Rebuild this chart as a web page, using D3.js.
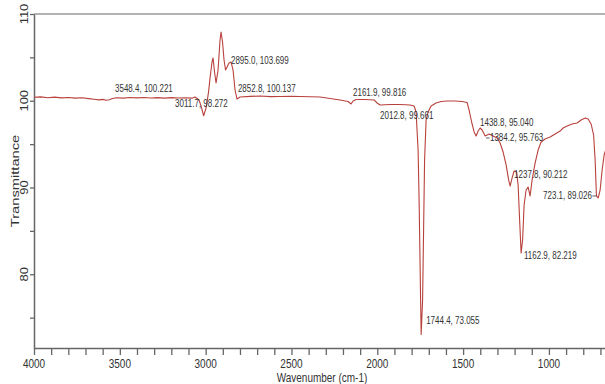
<!DOCTYPE html>
<html>
<head>
<meta charset="utf-8">
<script src="https://cdn.jsdelivr.net/npm/d3@7/dist/d3.min.js"></script>
<style>
  html, body { margin: 0; padding: 0; background: #fff; }
  svg { display: block; font-family: "Liberation Sans", Arial, sans-serif; }
</style>
</head>
<body>
<div id="chart"></div>
<script>
// FTIR spectrum
const wavenumber = [
  4000, 3960, 3920, 3880, 3840, 3800, 3760, 3720, 3680, 3650, 3620, 3600, 3580, 3560, 3548.4,
  3520, 3480, 3440, 3400, 3360, 3320, 3280, 3240, 3200, 3160, 3120, 3080, 3061.8, 3038.5, 3026.8,
  3011.7, 2997.7, 2983.1, 2974.4, 2962.7, 2956.9, 2948.1, 2939.4, 2927.7, 2916.1, 2910.2, 2901.5,
  2892.8, 2884.0, 2875.3, 2863.6, 2852.0, 2840.3, 2828.7, 2817.0, 2799.5, 2740, 2683, 2620, 2566,
  2500, 2450, 2390, 2333, 2275, 2217, 2170, 2152.7, 2141, 2123.5, 2071, 2018.6, 2001, 1983.6, 1925,
  1867, 1809, 1785.5, 1773.9, 1762.2, 1756.4, 1747.6, 1744.4, 1736.0, 1730.2, 1724.4, 1715.6, 1704,
  1686.5, 1657.3, 1628.2, 1593.2, 1546.6, 1505.8, 1476.7, 1465, 1450.4, 1435.8, 1424.2, 1412.5,
  1400.9, 1389.2, 1371.7, 1348.4, 1325.1, 1301.8, 1284.4, 1266.9, 1249.4, 1234.8, 1226.1, 1214.4,
  1202.8, 1188.2, 1179.5, 1170.7, 1162.0, 1153.3, 1144.6, 1133, 1121.3, 1109.6, 1098, 1080.5, 1063,
  1045.5, 1022.2, 993.1, 963.9, 934.8, 917.3, 894, 864.9, 835.7, 812.4, 789.1, 771.6, 754.1, 739.6,
  730.8, 723.1, 713.3, 701.7, 690, 678.3, 660.8, 649.2
]
const transmittance = [
  100.40, 100.45, 100.35, 100.42, 100.33, 100.38, 100.30, 100.35, 100.25, 100.18, 100.10, 100.16, 100.05, 100.12, 100.221,
  100.35, 100.30, 100.38, 100.33, 100.38, 100.32, 100.36, 100.30, 100.36, 100.31, 100.35, 100.30, 100.43, 100.09, 99.4,
  98.272, 99.16, 101.0, 102.62, 104.47, 104.93, 103.31, 102.05, 103.54, 107.0, 107.93, 106.77,
  104.70, 103.54, 103.89, 104.35, 104.47, 103.54, 101.24, 100.2, 100.43, 100.5, 100.55, 100.48, 100.49,
  100.52, 100.49, 100.46, 100.43, 100.26, 100.09, 99.91, 99.63, 99.97, 100.14, 100.14, 100.09, 99.74, 99.51, 99.57,
  99.57, 99.51, 99.40, 98.70, 94.32, 88.56, 77.03, 73.055, 77.03, 85.1, 93.17, 97.78, 98.70,
  99.4, 99.74, 99.91, 99.97, 99.97, 99.91, 99.8, 98.93, 97.55, 96.4, 95.94, 96.51,
  96.86, 96.63, 95.94, 96.17, 95.94, 95.71, 95.13, 94.09, 92.6, 90.87, 90.17, 91.1,
  91.9, 91.79, 90.29, 86.25, 82.45, 83.95, 87.98, 89.71, 90.06, 89.02, 90.87, 92.82, 94.32,
  95.25, 95.59, 95.82, 96.17, 96.51, 96.86, 97.09, 97.32, 97.44, 97.78, 98.01, 97.9, 97.32, 96.05,
  93.17, 89.026, 88.79, 89.71, 92.02, 93.75, 94.9, 95.48
]

// peak picks
const peakWavenumber = [3548.4, 3011.7, 2895.0, 2852.8, 2161.9, 2012.8, 1744.4, 1438.8, 1384.2, 1237.8, 1162.9, 723.1]
const peakTransmittance = [100.221, 98.272, 103.699, 100.137, 99.816, 99.661, 73.055, 95.040, 95.763, 90.212, 82.219, 89.026]
const peakLabels = ["3548.4, 100.221", "3011.7, 98.272", "2895.0, 103.699", "2852.8, 100.137", "2161.9, 99.816",
  "2012.8, 99.661", "1744.4, 73.055", "1438.8, 95.040", "1384.2, 95.763", "1237.8, 90.212", "1162.9, 82.219", "723.1, 89.026"]

const xTickValues = [4000, 3500, 3000, 2500, 2000, 1500, 1000]
const yTickValues = [80, 90, 100, 110]

// layout
const width = 605
const height = 384
const marginLeft = 34
const marginTop = 14
const plotBottom = 348
const textStretch = 1.3      // the picture is squashed a bit, text looks tall
const lineColor = "#b8413c"
const axisColor = "#666"
const textColor = "#333"

// where each peak label sits relative to its point [dx, dy, anchor]
const labelOffset = [
  [3.5, -7, "start"], [-28.6, -8.7, "start"], [7.3, -4.7, "start"], [7, -7.6, "start"],
  [3.5, -6.3, "start"], [5, 15, "start"], [5, -10.5, "start"], [6.4, -17.8, "start"],
  [7, 3.5, "start"], [6, -7.7, "start"], [3, 4, "start"], [-4.5, 3, "end"]
]

const data = wavenumber.map((w, i) => ({ w: w, t: transmittance[i] }))

const x = d3.scaleLinear([4000, 650], [marginLeft, 609])
const y = d3.scaleLinear([71.5, 110], [plotBottom, marginTop])

const svg = d3.select("#chart")
  .append("svg")
  .attr("width", width)
  .attr("height", height)
  .attr("viewBox", [0, 0, width, height])

// top frame
svg.append("line")
  .attr("x1", marginLeft).attr("x2", width)
  .attr("y1", marginTop).attr("y2", marginTop)
  .attr("stroke", "#9a9a9a")
  .attr("stroke-width", 1.5)

// x axis, tick every 100
svg.append("g")
  .attr("transform", `translate(0,${plotBottom})`)
  .call(d3.axisBottom(x).tickValues(d3.range(4000, 600, -100)).tickSize(7).tickSizeOuter(0).tickFormat(""))
  .call(g => g.select(".domain").attr("stroke", axisColor).attr("stroke-width", 1.5))
  .call(g => g.selectAll(".tick line").attr("stroke", axisColor).attr("stroke-width", 1.3))

// y axis, tick every 5
svg.append("g")
  .attr("transform", `translate(${marginLeft},0)`)
  .call(d3.axisLeft(y).tickValues(d3.range(75, 111, 5)).tickSize(4).tickSizeOuter(0).tickFormat(""))
  .call(g => g.select(".domain").attr("stroke", axisColor).attr("stroke-width", 1.5))
  .call(g => g.selectAll(".tick line").attr("stroke", axisColor).attr("stroke-width", 1.3))

// tick labels
svg.append("g")
  .selectAll("text")
  .data(xTickValues)
  .join("text")
  .attr("transform", d => `translate(${x(d)},368) scale(1,${textStretch})`)
  .attr("text-anchor", "middle")
  .attr("font-size", 10)
  .attr("fill", textColor)
  .text(d => d)

svg.append("g")
  .selectAll("text")
  .data(yTickValues)
  .join("text")
  .attr("transform", d => `translate(28,${y(d)}) scale(1,${textStretch}) rotate(-90)`)
  .attr("text-anchor", "middle")
  .attr("font-size", 10)
  .attr("fill", textColor)
  .text(d => d)

// axis titles
svg.append("text")
  .attr("transform", `translate(322,381.5) scale(1,1.2)`)
  .attr("text-anchor", "middle")
  .attr("font-size", 10)
  .attr("fill", textColor)
  .text("Wavenumber (cm-1)")

svg.append("text")
  .attr("transform", `translate(19,181) scale(1,1.4) rotate(-90)`)
  .attr("text-anchor", "middle")
  .attr("font-size", 10.5)
  .attr("fill", textColor)
  .text("Transmittance")

// spectrum
const line = d3.line()
  .x(d => x(d.w))
  .y(d => y(d.t))

svg.append("path")
  .datum(data)
  .attr("fill", "none")
  .attr("stroke", lineColor)
  .attr("stroke-width", 1.1)
  .attr("stroke-linejoin", "round")
  .attr("d", line)

// peak labels
const peaks = peakLabels.map((label, i) => ({
  label: label, w: peakWavenumber[i], t: peakTransmittance[i], off: labelOffset[i]
}))

svg.append("g")
  .selectAll("text")
  .data(peaks)
  .join("text")
  .attr("transform", d => `translate(${x(d.w) + d.off[0]},${y(d.t) + d.off[1]}) scale(1,${textStretch})`)
  .attr("text-anchor", d => d.off[2])
  .attr("font-size", 8)
  .attr("fill", textColor)
  .text(d => d.label)

// little leader ticks on a couple of labels
svg.append("line")
  .attr("x1", x(1384.2) + 3).attr("x2", x(1384.2) + 6.5)
  .attr("y1", y(95.763) + 0.5).attr("y2", y(95.763) + 0.5)
  .attr("stroke", textColor).attr("stroke-width", 0.8)
svg.append("line")
  .attr("x1", x(723.1) - 4).attr("x2", x(723.1))
  .attr("y1", y(89.026)).attr("y2", y(89.026))
  .attr("stroke", textColor).attr("stroke-width", 0.8)
</script>
</body>
</html>
